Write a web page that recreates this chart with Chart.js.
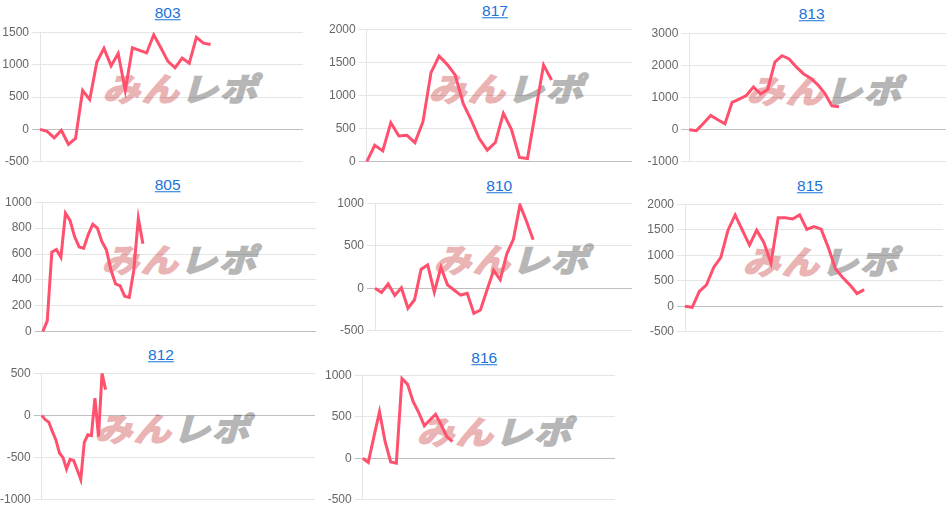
<!DOCTYPE html>
<html><head><meta charset="utf-8">
<script src="https://cdn.jsdelivr.net/npm/chart.js@4/dist/chart.umd.min.js"></script>
<style>
html,body{margin:0;padding:0;background:#fff}
body{width:951px;height:510px;position:relative;overflow:hidden;font-family:"Liberation Sans",Arial,sans-serif}
.t{position:absolute;transform:translate(-50%,-50%);color:#1a73d8;font-size:15.5px;text-decoration:underline;white-space:nowrap;line-height:1}
.wm{position:absolute;transform:translate(-50%,-50%) skewX(-16deg) scaleX(1.15);font-family:"Noto Sans CJK JP",sans-serif;font-weight:bold;font-size:32px;line-height:1;white-space:nowrap;letter-spacing:2px}
.wm .a{color:#ebb4b4;-webkit-text-stroke:2px #ebb4b4}.wm .b{color:#b6b6b6;-webkit-text-stroke:2px #b6b6b6}
.box{position:absolute}
</style></head><body>
<script>
// ---- data ----
const titles = ['803','817','813','805','810','815','812','816'];
const s803 = [0,-30,-130,-15,-230,-140,600,460,1040,1250,980,1170,600,1260,1220,1180,1460,1260,1050,950,1100,1020,1420,1330,1310];
const s817 = [0,250,165,590,390,400,290,605,1345,1595,1470,1310,880,630,350,175,290,730,490,65,50,760,1460,1235];
const s813 = [0,-30,200,440,310,180,850,950,1060,1330,1110,1250,2100,2300,2200,1950,1740,1600,1400,1130,740,710];
const s805 = [0,85,615,635,575,915,860,735,655,645,750,830,800,695,630,475,370,355,275,265,475,875,680];
const s810 = [0,-50,50,-85,5,-235,-135,225,275,-45,245,40,-20,-80,-60,-295,-255,-20,210,100,405,575,980,785,570];
const s815 = [0,-20,290,420,760,960,1490,1790,1490,1200,1490,1250,845,1735,1735,1710,1790,1505,1560,1510,1150,730,565,420,250,325];
const s812 = [0,-50,-80,-190,-290,-445,-500,-635,-520,-535,-645,-760,-320,-230,-240,205,-250,500,305];
const s816 = [0,-50,260,560,200,-45,-60,960,890,680,550,390,460,530,400,260,200];
const seriesList = [s803,s817,s813,s805,s810,s815,s812,s816];
const labelCounts = [38,34,37,61,40,37,78,46];
const yMins  = [-500,0,-1000,0,-500,-500,-1000,-500];
const yMaxs  = [1500,2000,3000,1000,1000,2000,500,1000];
const ySteps = [500,500,1000,200,500,500,500,500];

// ---- layout (page pixels) ----
// [plotLeft, plotRight, plotTop, plotBottom, titleX, titleY, wmX, wmY]
const layout = [
  [40,303.3,31.7,162.3,167.7,12.5,185,87],
  [366.7,631.7,29.3,161.7,495,11,511,87],
  [689.3,946,33.3,162.3,811.7,14,829,89],
  [42.7,316,202.3,331.7,167.7,185,184,258],
  [375,631.7,203.3,331,499.3,185.7,516,258],
  [685,943.3,204,332.3,810,186,825,260],
  [41.7,315,373.3,500,161,355,177,427],
  [362.7,615,375,500,484.3,358.3,499,430]
];
const AXW = 46, PAD = 10;

titles.forEach((title, i) => {
  const [pl, pr, pt, pb, tx, ty, wx, wy] = layout[i];
  const wm = document.createElement('div');
  wm.className = 'wm';
  wm.style.left = wx + 'px'; wm.style.top = wy + 'px';
  wm.innerHTML = '<span class="a">みん</span><span class="b">レポ</span>';
  document.body.appendChild(wm);

  const a = document.createElement('a');
  a.className = 't'; a.href = '#'; a.textContent = title;
  a.style.left = tx + 'px'; a.style.top = ty + 'px';
  document.body.appendChild(a);

  const box = document.createElement('div');
  box.className = 'box';
  const L = Math.round(pl - AXW), T = Math.round(pt - PAD);
  const W = Math.round(pr - L), H = Math.round(pb + PAD - T);
  box.style.left = L + 'px'; box.style.top = T + 'px';
  box.style.width = W + 'px'; box.style.height = H + 'px';
  const cv = document.createElement('canvas');
  box.appendChild(cv);
  document.body.appendChild(box);
  const axw = pl - L;

  const labels = Array.from({length: labelCounts[i]}, (_, k) => String(k + 1));
  new Chart(cv, {
    type: 'line',
    data: {
      labels,
      datasets: [{
        data: seriesList[i],
        borderColor: 'rgb(255,80,110)',
        backgroundColor: 'rgba(255,80,110,0.2)',
        borderWidth: 3,
        pointRadius: 0,
        fill: false,
        tension: 0
      }]
    },
    options: {
      responsive: true,
      maintainAspectRatio: false,
      animation: false,
      layout: { padding: { top: PAD, bottom: PAD, left: 0, right: 0 } },
      plugins: { legend: { display: false }, tooltip: { enabled: false } },
      scales: {
        x: { display: false },
        y: {
          min: yMins[i], max: yMaxs[i],
          afterFit: s => { s.width = axw; },
          ticks: {
            stepSize: ySteps[i], color: '#666',
            font: { size: 12, family: '"Liberation Sans", Arial, sans-serif' },
            callback: v => String(v)
          },
          grid: {
            color: c => (c.tick && c.tick.value === 0) ? 'rgba(0,0,0,0.25)' : 'rgba(0,0,0,0.1)'
          },
          border: { color: 'rgba(0,0,0,0.1)' }
        }
      }
    }
  });
});
</script>
</body></html>
